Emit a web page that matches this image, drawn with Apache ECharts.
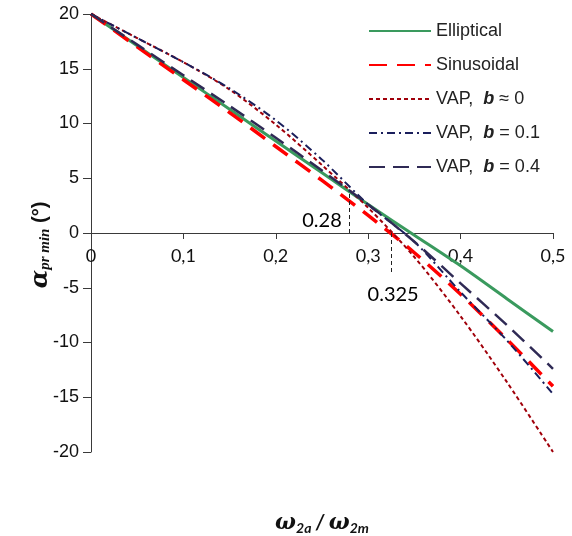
<!DOCTYPE html>
<html>
<head>
<meta charset="utf-8">
<script src="https://cdn.jsdelivr.net/npm/echarts@6/dist/echarts.min.js"></script>
<style>
html,body{margin:0;padding:0;background:#fff;}
#chart{width:572px;height:536px;}
</style>
</head>
<body>
<div id="chart"></div>
<script>
// ---- data ----
var xs = [0, 0.05, 0.1, 0.15, 0.2, 0.25, 0.3, 0.35, 0.4, 0.45, 0.5];
var elliptical = [20, 17.1, 14.2, 11.3, 8.4, 5.5, 2.6, -0.2, -3.0, -6.0, -9.0];
var sinusoidal = [20, 17.0, 14.0, 11.0, 7.9, 4.8, 1.6, -1.8, -5.6, -9.7, -14.0];
var vapB0 = [20, 17.8, 15.6, 13.1, 9.9, 6.2, 2.3, -2.2, -7.6, -13.6, -20.0];
var vapB01 = [20, 17.8, 15.6, 13.2, 10.3, 6.7, 2.6, -0.8, -5.4, -9.8, -14.7];
var vapB04 = [20, 17.2, 14.4, 11.6, 8.7, 5.7, 2.6, -0.8, -4.6, -8.4, -12.4];
var seriesNames = ['Elliptical', 'Sinusoidal', 'VAP, b \u2248 0', 'VAP, b = 0.1', 'VAP, b = 0.4'];
var xTickLabels = ['0', '0,1', '0,2', '0,3', '0,4', '0,5'];
var yTickLabels = ['-20', '-15', '-10', '-5', '0', '5', '10', '15', '20'];
var annX = [0.28, 0.325];
var annEnd = [3.6, -3.6];
var annText = ['0.28', '0.325'];
var annLabelPos = [[0.25, 1.1], [0.327, -5.6]];

function pairs(arr) { return xs.map(function (x, i) { return [x, arr[i]]; }); }

var chart = echarts.init(document.getElementById('chart'), null, {renderer: 'canvas'});

var legendRich = {
  n: {fontFamily: 'Liberation Sans, Arial, sans-serif', fontSize: 18, color: '#222'},
  b: {fontFamily: 'Liberation Sans, Arial, sans-serif', fontSize: 18, color: '#222', fontWeight: 'bold', fontStyle: 'italic'}
};

var option = {
  animation: false,
  backgroundColor: '#fff',
  grid: {left: 91, top: 14, right: 19, bottom: 84, containLabel: false, outerBoundsMode: 'none'},
  legend: {
    orient: 'vertical',
    left: 368,
    top: 22,
    padding: 0,
    itemWidth: 62,
    itemHeight: 14,
    itemGap: 16,
    data: seriesNames,
    itemStyle: {opacity: 0},
    formatter: function (name) {
      var m = name.match(/^VAP, b (.*)$/);
      if (m) return '{n|VAP,  }{b|b}{n| ' + m[1] + '}';
      return '{n|' + name + '}';
    },
    textStyle: {rich: legendRich, padding: [0, 0, 0, 0]}
  },
  xAxis: {
    type: 'value',
    min: 0, max: 0.5, interval: 0.1,
    axisLine: {onZero: true, lineStyle: {color: '#3a3a3a', width: 1}},
    axisTick: {show: true, inside: false, length: 6, lineStyle: {color: '#3a3a3a'}},
    splitLine: {show: false},
    axisLabel: {
      margin: -205,
      fontFamily: 'Lato, sans-serif', fontSize: 18, color: '#111',
      formatter: function (v) { return xTickLabels[Math.round(v * 10)]; }
    },
    name: '{w|\u03c9}{s|2a}{t| / }{w|\u03c9}{s|2m}',
    nameLocation: 'middle',
    nameGap: 59,
    nameTextStyle: {
      rich: {
        w: {fontFamily: 'DejaVu Serif, serif', fontSize: 22, fontWeight: 'bold', fontStyle: 'italic', color: '#111'},
        s: {fontFamily: 'Lato, sans-serif', fontSize: 14, fontWeight: 'bold', fontStyle: 'italic', color: '#111', padding: [10, 0, 0, 0]},
        t: {fontFamily: 'Lato, sans-serif', fontSize: 20, fontWeight: 'bold', fontStyle: 'italic', color: '#111'}
      }
    }
  },
  yAxis: {
    type: 'value',
    min: -20, max: 20, interval: 5,
    axisLine: {show: true, onZero: false, lineStyle: {color: '#3a3a3a', width: 1}},
    axisTick: {show: true, inside: false, length: 8, lineStyle: {color: '#3a3a3a'}},
    splitLine: {show: false},
    axisLabel: {
      margin: 12,
      fontFamily: 'Liberation Sans, Arial, sans-serif', fontSize: 18, color: '#111',
      formatter: function (v) { return yTickLabels[Math.round((v + 20) / 5)]; }
    },
    name: '{a|\u03b1}{s|pr min}{p| (\u00b0)}',
    nameLocation: 'middle',
    nameRotate: 90,
    nameGap: 38,
    nameMoveOverlap: false,
    nameTextStyle: {
      padding: [0, 24, 0, 0],
      rich: {
        a: {fontFamily: 'DejaVu Serif, serif', fontSize: 24, fontWeight: 'bold', fontStyle: 'italic', color: '#111'},
        s: {fontFamily: 'Liberation Serif, serif', fontSize: 15, fontWeight: 'bold', fontStyle: 'italic', color: '#111', padding: [10, 0, 0, 0]},
        p: {fontFamily: 'Liberation Sans, sans-serif', fontSize: 20, fontWeight: 'bold', color: '#111'}
      }
    }
  },
  series: [
    {
      name: seriesNames[0], type: 'line', data: pairs(elliptical), smooth: 0.3, showSymbol: false, symbol: 'none', z: 3,
      lineStyle: {color: '#3a9a5e', width: 3, type: 'solid'}, itemStyle: {color: '#3a9a5e'}
    },
    {
      name: seriesNames[1], type: 'line', data: pairs(sinusoidal), smooth: 0.3, showSymbol: false, symbol: 'none', z: 4,
      lineStyle: {color: '#ff0000', width: 3.5, type: [18, 10]}, itemStyle: {color: '#ff0000'}
    },
    {
      name: seriesNames[2], type: 'line', data: pairs(vapB0), smooth: 0.3, showSymbol: false, symbol: 'none', z: 5,
      lineStyle: {color: '#a0000a', width: 2, type: [4, 3]}, itemStyle: {color: '#a0000a'}
    },
    {
      name: seriesNames[3], type: 'line', data: pairs(vapB01), smooth: 0.3, showSymbol: false, symbol: 'none', z: 5,
      lineStyle: {color: '#1a1f5c', width: 2, type: [8, 4, 2, 4]}, itemStyle: {color: '#1a1f5c'}
    },
    {
      name: seriesNames[4], type: 'line', data: pairs(vapB04), smooth: 0.3, showSymbol: false, symbol: 'none', z: 5,
      lineStyle: {color: '#2f2a55', width: 2.5, type: [16, 8]}, itemStyle: {color: '#2f2a55'}
    },
    {
      name: 'annotations', type: 'scatter', symbolSize: 0, silent: true, z: 6,
      data: annLabelPos.map(function (p, i) { return {value: p, label: {formatter: annText[i]}}; }),
      label: {show: true, position: 'inside', fontFamily: 'Lato, sans-serif', fontSize: 20, color: '#000', textBorderWidth: 0, opacity: 1},
      itemStyle: {opacity: 1, color: '#000'},
      markLine: {
        silent: true, symbol: 'none', label: {show: false},
        lineStyle: {color: '#222', width: 1, type: [4, 3]},
        data: annX.map(function (x, i) { return [{coord: [x, 0]}, {coord: [x, annEnd[i]]}]; })
      }
    }
  ]
};
chart.setOption(option);
</script>
</body>
</html>
